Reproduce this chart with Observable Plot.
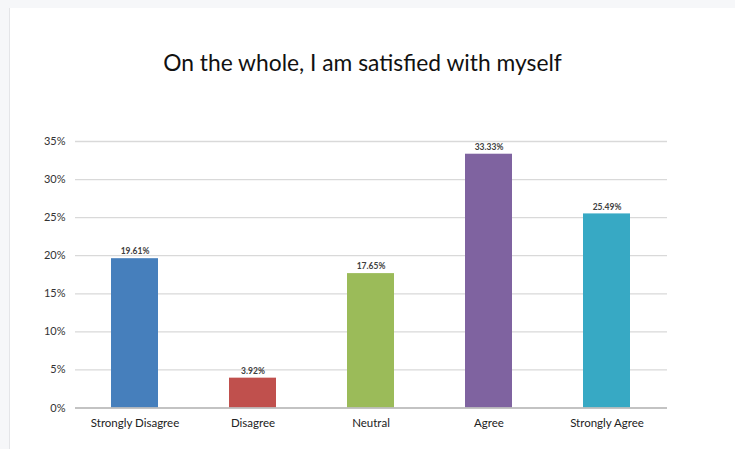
<!DOCTYPE html>
<html>
<head>
<meta charset="utf-8">
<script src="https://cdn.jsdelivr.net/npm/d3@7"></script>
<script src="https://cdn.jsdelivr.net/npm/@observablehq/plot@0.6"></script>
<style>
  html, body { margin: 0; padding: 0; }
  body { width: 735px; height: 449px; background: #f6f7f9; position: relative; overflow: hidden; font-family: Lato, "Open Sans", sans-serif; }
  #frame { position: absolute; left: 9px; top: 8px; right: 0; bottom: 0; background: #ffffff; border-left: 1px solid #e4e5e8; }
  #title { position: absolute; left: 0; width: 725px; top: 47px; text-align: center; font-size: 22.8px; color: #111; line-height: 30px; }
  #chart { position: absolute; left: 0; top: 120px; }
</style>
</head>
<body>
<div id="frame"></div>
<div id="title">On the whole, I am satisfied with myself</div>
<div id="chart"></div>
<script>
const categories = ["Strongly Disagree", "Disagree", "Neutral", "Agree", "Strongly Agree"];
const values = [19.61, 3.92, 17.65, 33.33, 25.49];
const colors = ["#467fbc", "#c0504d", "#9bbb59", "#7f63a0", "#37a9c4"];
const yTicks = [0, 5, 10, 15, 20, 25, 30, 35];

const data = categories.map((c, i) => ({ category: c, value: values[i] }));

const chart = Plot.plot({
  width: 735,
  height: 329,
  marginLeft: 75,
  marginRight: 68,
  marginTop: 21,
  marginBottom: 41.5,
  style: { background: "transparent", fontFamily: "Lato, 'Open Sans', sans-serif", color: "#404040" },
  x: { domain: categories, paddingInner: 0.6, paddingOuter: 0.3, label: null },
  y: { domain: [0, 35], label: null },
  color: { domain: categories, range: colors },
  marks: [
    Plot.gridY(yTicks, { stroke: "#d9d9d9", strokeOpacity: 1, strokeWidth: 1.3 }),
    Plot.barY(data, { x: "category", y: "value", fill: "category" }),
    Plot.ruleY([0], { stroke: "#b8b8b8", strokeWidth: 1.5 }),
    Plot.text(data, { x: "category", y: "value", text: d => d.value.toFixed(2) + "%", dy: -7, fontSize: 8.5, fontWeight: "bold", fill: "#404040" }),
    Plot.axisY(yTicks, { tickSize: 0, tickPadding: 10, tickFormat: d => d + "%", fontSize: 11, fill: "#333", label: null }),
    Plot.axisX({ tickSize: 0, tickPadding: 11, fontSize: 11.5, fill: "#222", label: null })
  ]
});
document.getElementById("chart").appendChild(chart);
</script>
</body>
</html>
